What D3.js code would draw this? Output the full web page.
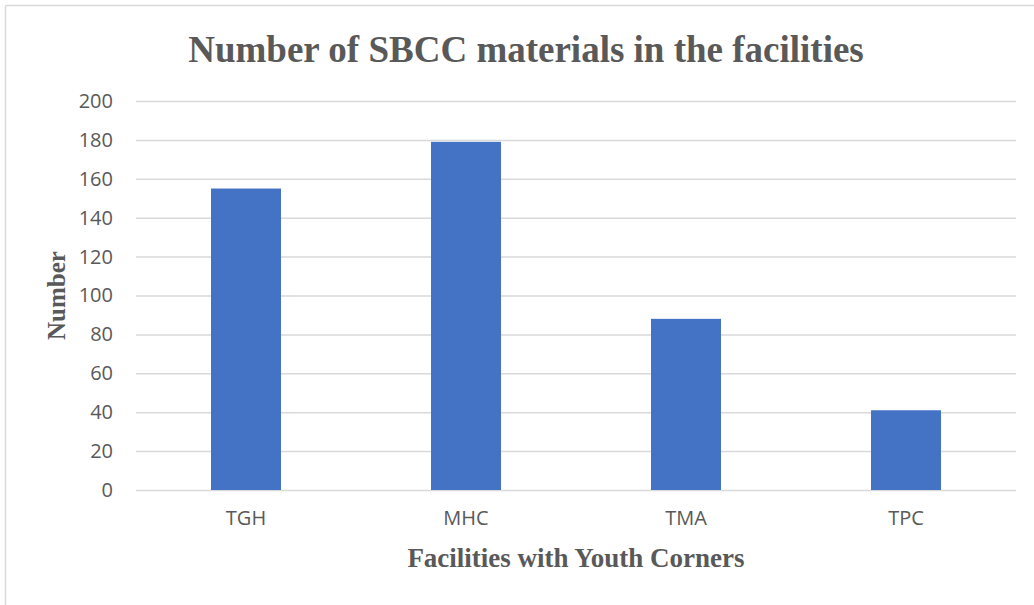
<!DOCTYPE html>
<html>
<head>
<meta charset="utf-8">
<script src="https://cdn.jsdelivr.net/npm/d3@7"></script>
<style>
  body { margin: 0; background: #fff; }
</style>
</head>
<body>
<svg id="chart"></svg>
<script>
const facilities = ["TGH", "MHC", "TMA", "TPC"];
const materialCounts = [155, 179, 88, 41];
const yTicks = [0, 20, 40, 60, 80, 100, 120, 140, 160, 180, 200];

const svgObj = { width: 1034, height: 605 };
const plot = { left: 136, right: 1016, top: 101, bottom: 490 };

const svg = d3.select("#chart")
  .attr("width", svgObj.width)
  .attr("height", svgObj.height);

// chart frame (only top and left visible in the source)
svg.append("line")
  .attr("x1", 5.5).attr("y1", 5.5).attr("x2", svgObj.width).attr("y2", 5.5)
  .attr("stroke", "#d9d9d9").attr("stroke-width", 1.5);
svg.append("line")
  .attr("x1", 5.5).attr("y1", 5.5).attr("x2", 5.5).attr("y2", svgObj.height)
  .attr("stroke", "#d9d9d9").attr("stroke-width", 1.5);

const x = d3.scaleBand()
  .domain(facilities)
  .range([plot.left, plot.right])
  .paddingInner(0.682)
  .paddingOuter(0.341);

const y = d3.scaleLinear()
  .domain([0, 200])
  .range([plot.bottom, plot.top]);

// gridlines + y labels
const yAxis = svg.append("g")
  .attr("transform", `translate(${plot.left},0)`)
  .call(d3.axisLeft(y).tickValues(yTicks).tickSize(-(plot.right - plot.left)).tickPadding(23));
yAxis.select(".domain").remove();
yAxis.selectAll(".tick line").attr("stroke", "#d9d9d9").attr("stroke-width", 1.5);
yAxis.selectAll(".tick text")
  .attr("fill", "#595959")
  .style("font-family", "'Open Sans', sans-serif")
  .style("font-size", "20px");

// bars
svg.selectAll(".bar")
  .data(facilities)
  .enter()
  .append("rect")
  .attr("class", "bar")
  .attr("x", d => x(d))
  .attr("y", (d, i) => y(materialCounts[i]))
  .attr("width", x.bandwidth())
  .attr("height", (d, i) => y(0) - y(materialCounts[i]))
  .attr("fill", "#4472c4");

// x labels
const xAxis = svg.append("g")
  .attr("transform", `translate(0,${plot.bottom})`)
  .call(d3.axisBottom(x).tickSize(0).tickPadding(21));
xAxis.select(".domain").remove();
xAxis.selectAll(".tick text")
  .attr("fill", "#595959")
  .style("font-family", "'Open Sans', sans-serif")
  .style("font-size", "20px");

// titles
svg.append("text")
  .attr("x", 526)
  .attr("y", 62)
  .attr("text-anchor", "middle")
  .attr("fill", "#595959")
  .style("font-family", "'Liberation Serif', 'Times New Roman', serif")
  .style("font-weight", "bold")
  .style("font-size", "37px")
  .text("Number of SBCC materials in the facilities");

svg.append("text")
  .attr("x", (plot.left + plot.right) / 2)
  .attr("y", 567)
  .attr("text-anchor", "middle")
  .attr("fill", "#595959")
  .style("font-family", "'Liberation Serif', 'Times New Roman', serif")
  .style("font-weight", "bold")
  .style("font-size", "27px")
  .text("Facilities with Youth Corners");

svg.append("text")
  .attr("transform", `translate(65,${(plot.top + plot.bottom) / 2}) rotate(-90)`)
  .attr("text-anchor", "middle")
  .attr("fill", "#595959")
  .style("font-family", "'Liberation Serif', 'Times New Roman', serif")
  .style("font-weight", "bold")
  .style("font-size", "25px")
  .text("Number");
</script>
</body>
</html>
